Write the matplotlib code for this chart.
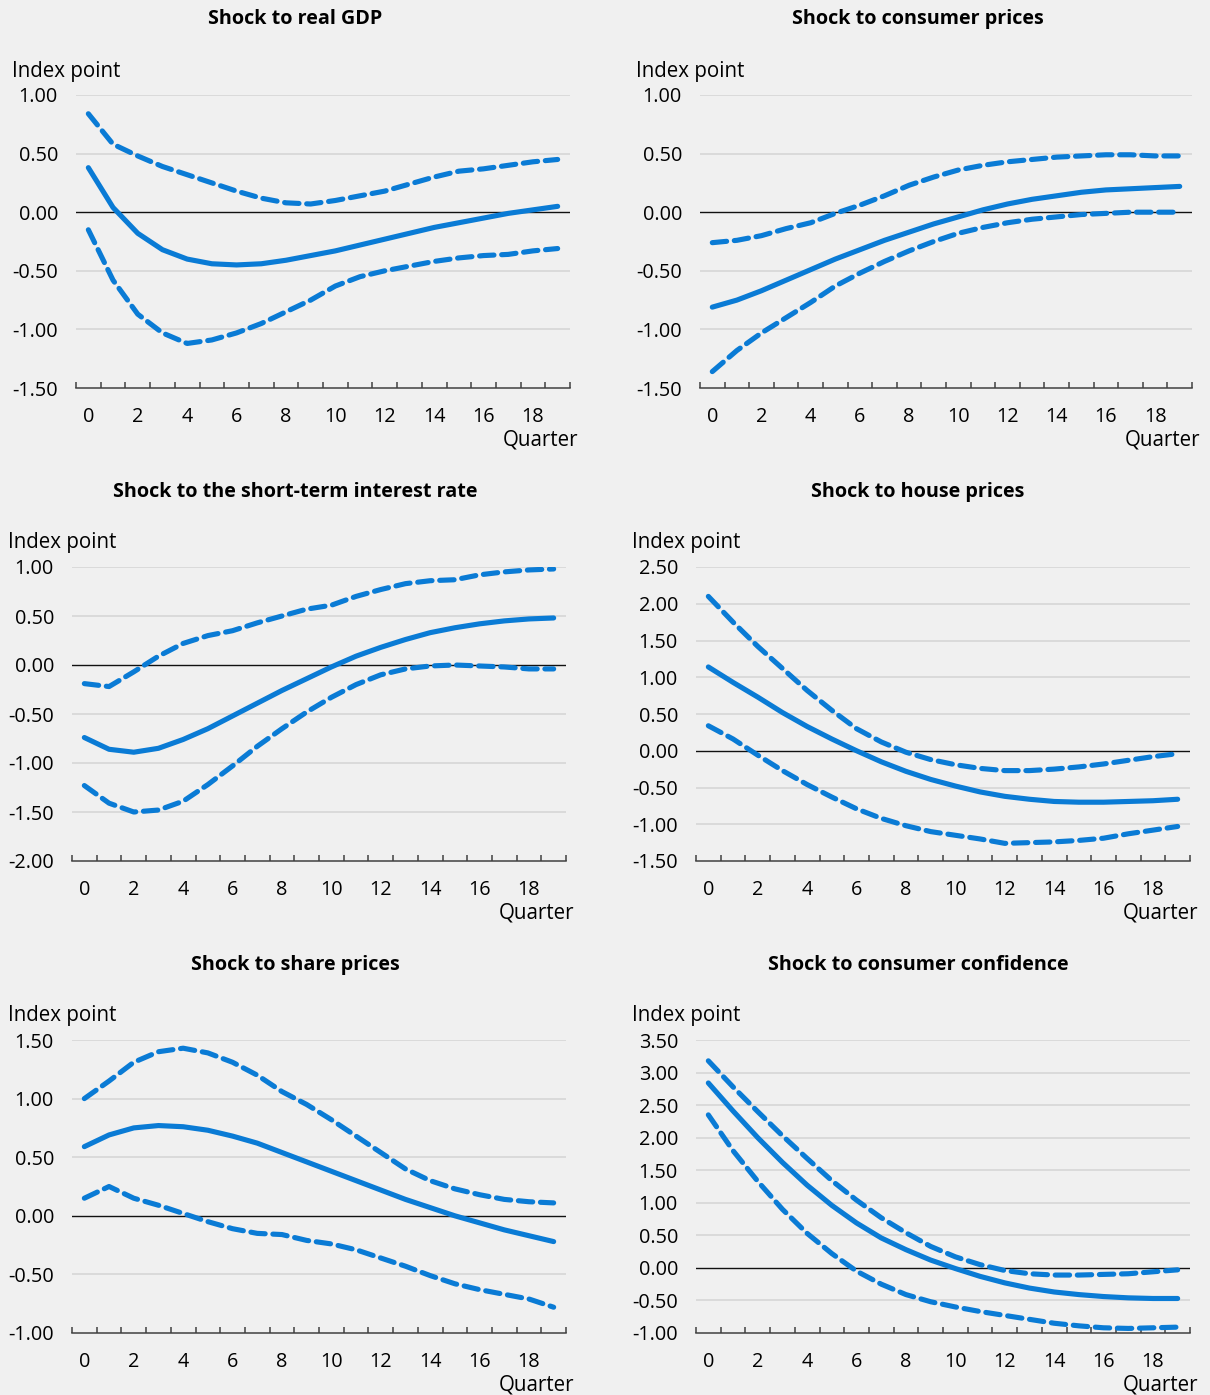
import matplotlib

matplotlib.use("Agg")
import matplotlib.pyplot as plt
from matplotlib.ticker import FixedLocator

W, H = 1210, 1395
BLUE = "#0a7bd5"
BG = "#f0f0f0"

plt.rcParams["font.family"] = ["Open Sans", "DejaVu Sans"]
plt.rcParams["font.size"] = 14

quarters = list(range(20))

titles = [
    "Shock to real GDP",
    "Shock to consumer prices",
    "Shock to the short-term interest rate",
    "Shock to house prices",
    "Shock to share prices",
    "Shock to consumer confidence",
]

gdp_mid = [0.38, 0.04, -0.18, -0.32, -0.40, -0.44, -0.45, -0.44, -0.41, -0.37,
           -0.33, -0.28, -0.23, -0.18, -0.13, -0.09, -0.05, -0.01, 0.02, 0.05]
gdp_hi = [0.84, 0.58, 0.48, 0.39, 0.32, 0.25, 0.18, 0.12, 0.08, 0.07,
          0.10, 0.14, 0.18, 0.24, 0.30, 0.35, 0.37, 0.40, 0.43, 0.45]
gdp_lo = [-0.15, -0.58, -0.87, -1.03, -1.12, -1.09, -1.03, -0.95, -0.85, -0.75,
          -0.63, -0.55, -0.50, -0.46, -0.42, -0.39, -0.37, -0.36, -0.33, -0.31]

cpi_mid = [-0.81, -0.75, -0.67, -0.58, -0.49, -0.40, -0.32, -0.24, -0.17, -0.10,
           -0.04, 0.02, 0.07, 0.11, 0.14, 0.17, 0.19, 0.20, 0.21, 0.22]
cpi_hi = [-0.26, -0.24, -0.20, -0.14, -0.09, -0.01, 0.06, 0.14, 0.23, 0.30,
          0.36, 0.40, 0.43, 0.45, 0.47, 0.48, 0.49, 0.49, 0.48, 0.48]
cpi_lo = [-1.36, -1.18, -1.03, -0.90, -0.77, -0.63, -0.52, -0.42, -0.33, -0.25,
          -0.18, -0.13, -0.09, -0.06, -0.04, -0.02, -0.01, 0.00, 0.00, 0.00]

rate_mid = [-0.74, -0.86, -0.89, -0.85, -0.76, -0.65, -0.52, -0.39, -0.26, -0.14,
            -0.02, 0.09, 0.18, 0.26, 0.33, 0.38, 0.42, 0.45, 0.47, 0.48]
rate_hi = [-0.19, -0.22, -0.07, 0.09, 0.22, 0.30, 0.35, 0.43, 0.50, 0.57,
           0.61, 0.70, 0.77, 0.83, 0.86, 0.87, 0.92, 0.95, 0.97, 0.98]
rate_lo = [-1.23, -1.41, -1.50, -1.48, -1.39, -1.22, -1.03, -0.83, -0.65, -0.48,
           -0.33, -0.20, -0.10, -0.04, -0.01, 0.00, -0.01, -0.02, -0.04, -0.04]

house_mid = [1.14, 0.93, 0.73, 0.52, 0.33, 0.16, 0.00, -0.15, -0.28, -0.39,
             -0.48, -0.56, -0.62, -0.66, -0.69, -0.70, -0.70, -0.69, -0.68, -0.66]
house_hi = [2.10, 1.75, 1.42, 1.12, 0.82, 0.55, 0.30, 0.12, -0.02, -0.12,
            -0.19, -0.24, -0.27, -0.27, -0.25, -0.22, -0.18, -0.13, -0.08, -0.04]
house_lo = [0.34, 0.16, -0.06, -0.27, -0.46, -0.63, -0.79, -0.92, -1.02, -1.10,
            -1.15, -1.20, -1.26, -1.25, -1.24, -1.22, -1.19, -1.13, -1.08, -1.03]

share_mid = [0.59, 0.69, 0.75, 0.77, 0.76, 0.73, 0.68, 0.62, 0.54, 0.46,
             0.38, 0.30, 0.22, 0.14, 0.07, 0.00, -0.06, -0.12, -0.17, -0.22]
share_hi = [1.00, 1.15, 1.31, 1.40, 1.43, 1.39, 1.31, 1.20, 1.06, 0.95,
            0.82, 0.68, 0.54, 0.40, 0.30, 0.23, 0.18, 0.14, 0.12, 0.11]
share_lo = [0.15, 0.25, 0.15, 0.09, 0.02, -0.05, -0.11, -0.15, -0.16, -0.21,
            -0.24, -0.29, -0.36, -0.43, -0.51, -0.58, -0.63, -0.67, -0.71, -0.78]

conf_mid = [2.84, 2.41, 2.00, 1.62, 1.27, 0.96, 0.69, 0.46, 0.28, 0.12,
            -0.01, -0.13, -0.23, -0.31, -0.37, -0.41, -0.44, -0.46, -0.47, -0.47]
conf_hi = [3.18, 2.78, 2.40, 2.03, 1.68, 1.34, 1.04, 0.77, 0.54, 0.33,
           0.17, 0.05, -0.04, -0.09, -0.11, -0.11, -0.10, -0.09, -0.06, -0.03]
conf_lo = [2.35, 1.80, 1.33, 0.90, 0.53, 0.22, -0.05, -0.25, -0.41, -0.52,
           -0.60, -0.67, -0.73, -0.79, -0.85, -0.89, -0.92, -0.93, -0.92, -0.91]

series = [
    (gdp_mid, gdp_hi, gdp_lo),
    (cpi_mid, cpi_hi, cpi_lo),
    (rate_mid, rate_hi, rate_lo),
    (house_mid, house_hi, house_lo),
    (share_mid, share_hi, share_lo),
    (conf_mid, conf_hi, conf_lo),
]

y_ranges = [(-1.5, 1.0), (-1.5, 1.0), (-2.0, 1.0), (-1.5, 2.5), (-1.0, 1.5), (-1.0, 3.5)]

# axes boxes in pixels: left, right, top, bottom
boxes = [
    (76, 570, 95, 388),
    (700, 1192, 95, 388),
    (72, 566, 567, 861),
    (696, 1190, 567, 861),
    (72, 566, 1040, 1333),
    (696, 1190, 1040, 1333),
]
title_pos = [(295, 19), (918, 19), (295, 492), (918, 492), (295, 965), (918, 965)]

fig = plt.figure(figsize=(W / 100, H / 100), dpi=100, facecolor=BG)


def fx(x):
    return x / W


def fy(y):
    return 1 - y / H


for i, (mid, hi, lo) in enumerate(series):
    left, right, top, bottom = boxes[i]
    ax = fig.add_axes([fx(left), fy(bottom), (right - left) / W, (bottom - top) / H])
    ax.set_facecolor(BG)
    ymin, ymax = y_ranges[i]
    yt = [ymin + 0.5 * k for k in range(int(round((ymax - ymin) / 0.5)) + 1)]
    ax.set_ylim(ymin, ymax)
    ax.set_xlim(-0.5, 19.5)
    ax.set_yticks(yt)
    ax.set_yticklabels([f"{v:.2f}" for v in yt])
    for v in yt[1:]:
        if abs(v) > 1e-9:
            ax.axhline(v, color="#d6d6d6", lw=1.2, zorder=1)
    ax.axhline(0, color="#111111", lw=1.0, zorder=2)

    ax.plot(quarters, hi, color=BLUE, lw=3.7, dashes=(2.8, 1.5),
            dash_capstyle="round", zorder=3)
    ax.plot(quarters, lo, color=BLUE, lw=3.7, dashes=(2.8, 1.5),
            dash_capstyle="round", zorder=3)
    ax.plot(quarters, mid, color=BLUE, lw=3.7, solid_capstyle="round", zorder=4)

    for s in ["top", "right", "left"]:
        ax.spines[s].set_visible(False)
    ax.spines["bottom"].set_color("#404040")
    ax.spines["bottom"].set_linewidth(1.1)

    ax.set_xticks(list(range(0, 20, 2)))
    ax.xaxis.set_minor_locator(FixedLocator([k - 0.5 for k in range(21)]))
    ax.tick_params(axis="x", which="major", length=0, pad=14, labelsize=14.3)
    ax.tick_params(axis="x", which="minor", length=4.5, width=1.1,
                   direction="in", color="#404040")
    ax.tick_params(axis="y", length=0, pad=13, labelsize=14.3)

    fig.text(fx(left - 64), fy(top - 24), "Index point", ha="left", va="center",
             fontsize=14.8)
    fig.text(fx(right + 8), fy(bottom + 52), "Quarter", ha="right", va="center",
             fontsize=14.8)
    tx, ty = title_pos[i]
    fig.text(fx(tx), fy(ty), titles[i], ha="center", va="center",
             fontsize=14.2, fontweight="bold")

fig.savefig("out.png", dpi=100, facecolor=BG)
